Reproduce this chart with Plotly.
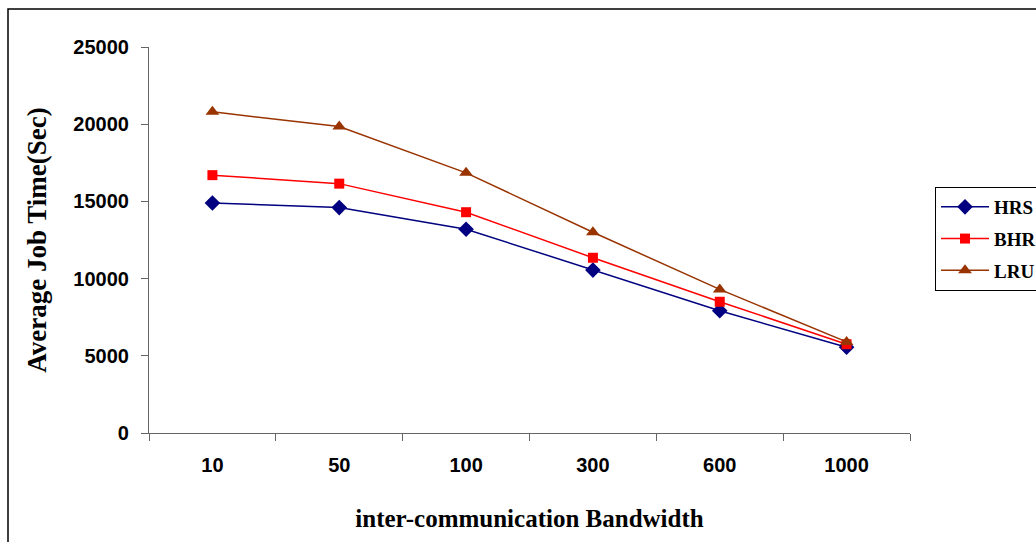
import plotly.graph_objects as go

bandwidth = ["10", "50", "100", "300", "600", "1000"]
hrs = [14900, 14600, 13200, 10550, 7920, 5550]
bhr = [16700, 16150, 14300, 11350, 8500, 5750]
lru = [20800, 19850, 16850, 13000, 9300, 5900]

W, H = 1036, 542
L, R, T, B = 149, 910, 47, 433

fig = go.Figure()
series = [
    ("HRS", hrs, "#000080", "diamond", 12),
    ("BHR", bhr, "#FF0000", "square", 10),
    ("LRU", lru, "#993300", "triangle-up", 12),
]
for name, vals, col, sym, sz in series:
    fig.add_trace(go.Scatter(
        x=bandwidth, y=vals, name=name, mode="lines+markers",
        line=dict(color=col, width=1.5),
        marker=dict(symbol=sym, size=sz, color=col),
        legendgroup=name,
    ))

def px_x(p):
    return (p - L) / (R - L)

def px_y(p):
    return (B - p) / (B - T)

fig.add_shape(type="rect", xref="paper", yref="paper",
              x0=px_x(8), x1=px_x(1060), y0=px_y(9), y1=px_y(560),
              line=dict(color="black", width=1.5), fillcolor="rgba(0,0,0,0)")

fig.update_layout(
    width=W, height=H,
    margin=dict(l=L, r=W - R, t=T, b=H - B, autoexpand=False),
    paper_bgcolor="white", plot_bgcolor="white",
    showlegend=True,
    legend=dict(
        x=px_x(935), y=px_y(187), xanchor="left", yanchor="top",
        bordercolor="black", borderwidth=1, bgcolor="white",
        font=dict(family="Liberation Serif", size=19, color="black", weight="bold"),
        tracegroupgap=4,
        itemwidth=48,
    ),
    xaxis=dict(
        type="category", range=[-0.5, len(bandwidth) - 0.5],
        showline=True, linecolor="#666666", linewidth=1.2,
        ticks="outside", tickson="boundaries", ticklen=7, tickcolor="#666666",
        showgrid=False, zeroline=False,
        tickfont=dict(family="Liberation Sans", size=20, color="black", weight="bold"),
        ticklabelstandoff=14,
        title=dict(text="<b>inter-communication Bandwidth</b>",
                   font=dict(family="Liberation Serif", size=25, color="black"),
                   standoff=34),
    ),
    yaxis=dict(
        range=[0, 25000], dtick=5000, tickformat="d", showline=True,
        linecolor="#666666", linewidth=1.2,
        ticks="outside", ticklen=7, tickcolor="#666666",
        showgrid=False, zeroline=False,
        tickfont=dict(family="Liberation Sans", size=20, color="black", weight="bold"),
        ticklabelstandoff=8,
        title=dict(text="<b>Average Job Time(Sec)</b>",
                   font=dict(family="Liberation Serif", size=27, color="black"),
                   standoff=18),
    ),
)

fig.write_html(
    "out.html",
    config={"displayModeBar": False},
    post_script="document.body.style.margin='0';document.body.style.overflow='hidden';",
)
